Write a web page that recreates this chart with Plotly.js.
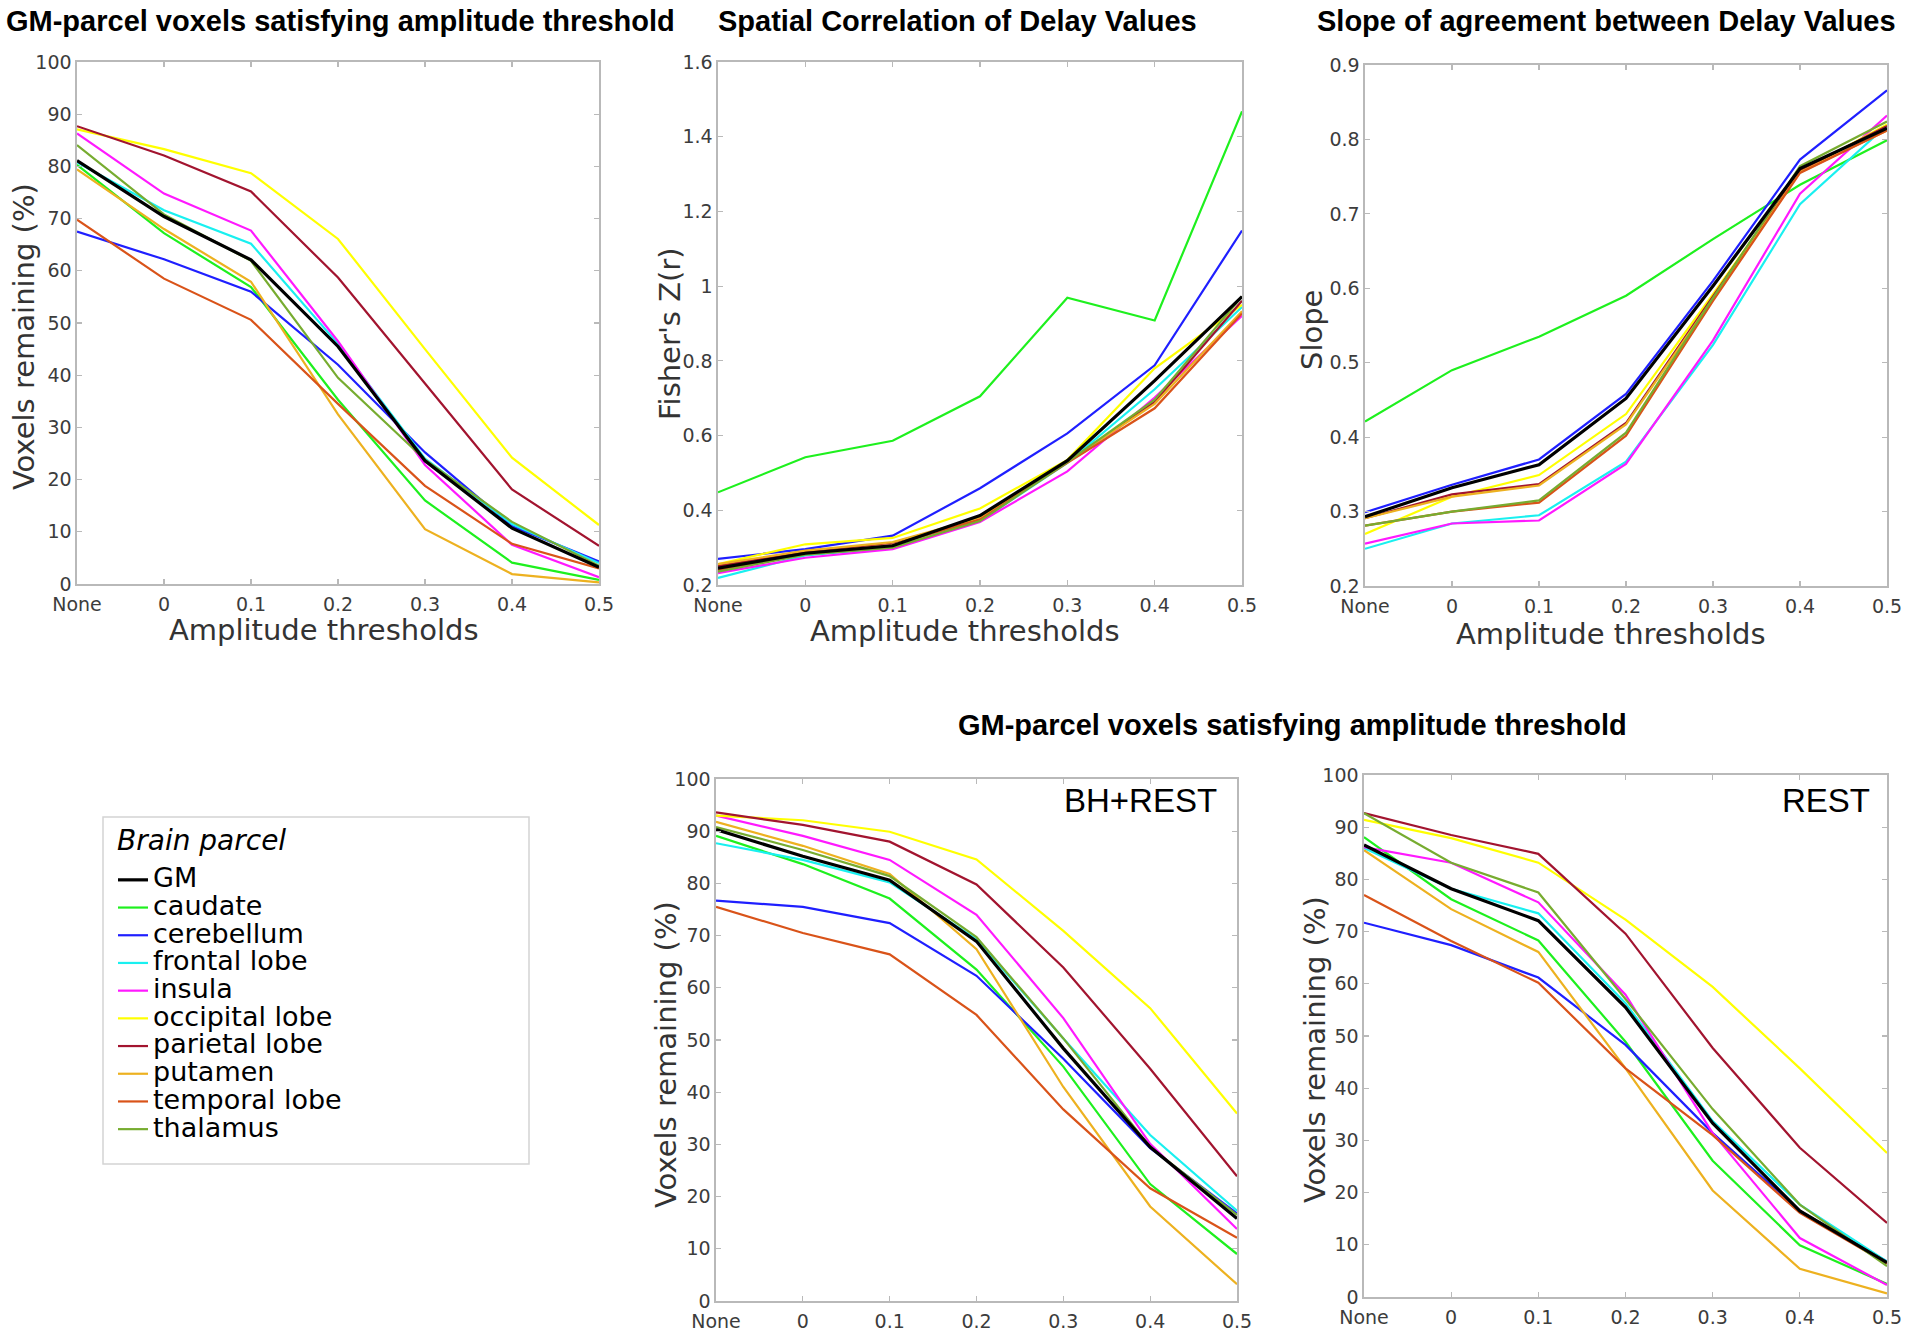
<!DOCTYPE html>
<html>
<head>
<meta charset="utf-8">
<script src="https://cdn.plot.ly/plotly-3.0.1.min.js"></script>
<style>html,body{margin:0;padding:0;background:#fff;}#chart{width:1920px;height:1338px;}</style>
</head>
<body>
<div id="chart"></div>
<script>
// ---------- data ----------
const thresholds = ['None', '0', '0.1', '0.2', '0.3', '0.4', '0.5'];
const parcels = ['GM', 'caudate', 'cerebellum', 'frontal lobe', 'insula', 'occipital lobe',
                 'parietal lobe', 'putamen', 'temporal lobe', 'thalamus'];
const parcelColors = ['#000000', '#1ef01e', '#1f1fff', '#19f0f0', '#ff19ff', '#ffff00',
                      '#a2142f', '#edb120', '#d95319', '#77ac30'];
const parcelWidths = [3.2, 2.2, 2.2, 2.2, 2.2, 2.2, 2.2, 2.2, 2.2, 2.2];

// Panel 1: GM-parcel voxels satisfying amplitude threshold (%)
const voxelsRemaining = [
  [81.1, 70.4, 62.1, 45.5, 23.6, 10.7, 3.2],   // GM
  [80.3, 67.2, 56.9, 35.3, 16.0, 4.1, 0.8],    // caudate
  [67.5, 62.2, 56.0, 42.0, 25.2, 11.1, 4.3],   // cerebellum
  [80.8, 71.6, 65.2, 46.0, 24.0, 11.5, 4.0],   // frontal lobe
  [86.3, 74.8, 67.7, 46.5, 22.8, 7.5, 1.3],    // insula
  [87.1, 83.3, 78.7, 66.1, 45.0, 24.2, 11.3],  // occipital lobe
  [87.7, 82.1, 75.2, 58.7, 38.4, 18.1, 7.3],   // parietal lobe
  [79.4, 68.0, 57.9, 32.5, 10.5, 1.9, 0.3],    // putamen
  [69.8, 58.5, 50.6, 34.5, 18.8, 7.7, 3.0],    // temporal lobe
  [84.1, 70.8, 61.9, 39.5, 23.8, 11.9, 3.5]    // thalamus
];

// Panel 2: Spatial correlation of delay values, Fisher's Z(r)
const fisherZ = [
  [0.245, 0.285, 0.305, 0.386, 0.533, 0.747, 0.972],  // GM
  [0.448, 0.542, 0.586, 0.705, 0.969, 0.908, 1.468],  // caudate
  [0.270, 0.296, 0.332, 0.459, 0.606, 0.788, 1.149],  // cerebellum
  [0.219, 0.279, 0.300, 0.371, 0.527, 0.724, 0.944],  // frontal lobe
  [0.232, 0.273, 0.296, 0.369, 0.504, 0.702, 0.921],  // insula
  [0.256, 0.309, 0.326, 0.405, 0.535, 0.780, 0.950],  // occipital lobe
  [0.251, 0.288, 0.313, 0.378, 0.529, 0.690, 0.961],  // parietal lobe
  [0.256, 0.292, 0.315, 0.380, 0.530, 0.685, 0.933],  // putamen
  [0.240, 0.285, 0.307, 0.375, 0.527, 0.673, 0.927],  // temporal lobe
  [0.236, 0.281, 0.300, 0.371, 0.529, 0.696, 0.972]   // thalamus
];

// Panel 3: Slope of agreement between delay values
const slopeAgreement = [
  [0.293, 0.332, 0.363, 0.452, 0.603, 0.761, 0.815],  // GM
  [0.421, 0.490, 0.535, 0.590, 0.666, 0.739, 0.799],  // caudate
  [0.299, 0.336, 0.370, 0.458, 0.610, 0.773, 0.866],  // cerebellum
  [0.250, 0.284, 0.295, 0.367, 0.524, 0.713, 0.819],  // frontal lobe
  [0.257, 0.284, 0.288, 0.364, 0.530, 0.727, 0.832],  // insula
  [0.270, 0.320, 0.349, 0.431, 0.592, 0.756, 0.820],  // occipital lobe
  [0.291, 0.323, 0.337, 0.419, 0.589, 0.758, 0.818],  // parietal lobe
  [0.291, 0.320, 0.335, 0.417, 0.586, 0.756, 0.812],  // putamen
  [0.281, 0.300, 0.312, 0.402, 0.583, 0.755, 0.812],  // temporal lobe
  [0.281, 0.300, 0.315, 0.406, 0.587, 0.764, 0.824]   // thalamus
];

// Panel 4: voxels remaining, BH+REST (%)
const voxelsBhRest = [
  [90.3, 85.2, 80.6, 68.9, 48.4, 29.5, 15.8],  // GM
  [89.1, 83.7, 77.1, 63.5, 44.9, 22.4, 9.0],   // caudate
  [76.7, 75.5, 72.4, 62.3, 46.4, 29.3, 16.8],  // cerebellum
  [87.7, 84.5, 80.2, 69.3, 50.3, 31.8, 17.3],  // frontal lobe
  [93.0, 89.1, 84.5, 74.0, 54.2, 30.1, 13.8],  // insula
  [93.0, 92.1, 89.9, 84.6, 70.9, 56.1, 35.9],  // occipital lobe
  [93.6, 91.2, 88.0, 79.8, 63.9, 44.5, 23.9],  // parietal lobe
  [91.8, 87.2, 81.8, 67.4, 41.0, 18.1, 3.2],   // putamen
  [75.5, 70.5, 66.4, 54.8, 36.7, 21.6, 12.1],  // temporal lobe
  [90.8, 86.4, 81.4, 69.7, 50.3, 29.5, 16.5]   // thalamus
];

// Panel 5: voxels remaining, REST (%)
const voxelsRest = [
  [86.6, 78.2, 72.1, 55.5, 33.3, 16.5, 6.6],   // GM
  [88.1, 76.2, 68.3, 48.9, 26.1, 9.9, 2.5],    // caudate
  [71.7, 67.4, 61.2, 48.3, 31.4, 16.5, 6.8],   // cerebellum
  [86.0, 78.2, 73.5, 56.3, 33.7, 17.7, 6.8],   // frontal lobe
  [86.2, 83.2, 75.6, 57.9, 31.4, 11.3, 2.3],   // insula
  [91.4, 87.9, 83.2, 72.3, 59.4, 43.8, 27.6],  // occipital lobe
  [92.7, 88.5, 84.9, 69.6, 47.7, 28.6, 14.2],  // parietal lobe
  [85.6, 74.3, 66.1, 43.8, 20.4, 5.4, 0.7],    // putamen
  [77.0, 68.2, 60.2, 43.8, 31.0, 16.1, 6.4],   // temporal lobe
  [92.7, 83.2, 77.5, 57.1, 36.0, 17.7, 5.9]    // thalamus
];

const panelTitles = ['GM-parcel voxels satisfying amplitude threshold',
                     'Spatial Correlation of Delay Values',
                     'Slope of agreement between Delay Values',
                     'GM-parcel voxels satisfying amplitude threshold'];
const xTitle = 'Amplitude thresholds';
const yTitles = ['Voxels remaining (%)', "Fisher's Z(r)", 'Slope', 'Voxels remaining (%)', 'Voxels remaining (%)'];
const panelTags = ['BH+REST', 'REST'];
const legendTitle = 'Brain parcel';

// ---------- build ----------
const W = 1920, H = 1338;
const px = v => v / W;
const py = v => 1 - v / H;

const panelData = [voxelsRemaining, fisherZ, slopeAgreement, voxelsBhRest, voxelsRest];
const traces = [];
// draw order: coloured parcels first, GM (black) on top
const order = [1, 2, 3, 4, 5, 6, 7, 8, 9, 0];
panelData.forEach((series, p) => {
  const ax = p === 0 ? '' : String(p + 1);
  order.forEach(i => {
    traces.push({
      type: 'scatter', mode: 'lines',
      x: thresholds, y: series[i],
      name: '<span style="font-size:27px">' + parcels[i] + '</span>',
      legendrank: i + 1,
      xaxis: 'x' + ax, yaxis: 'y' + ax,
      line: {color: parcelColors[i], width: parcelWidths[i]},
      showlegend: p === 0,
      hoverinfo: 'x+y'
    });
  });
});

const axisLine = '#b9b9b9';
const tickFont = {family: 'DejaVu Sans, Verdana, sans-serif', size: 19, color: '#3c3c3c'};
const axisTitleFont = {family: 'DejaVu Sans, Verdana, sans-serif', size: 29, color: '#333333'};

function xAxis(domain, anchor) {
  return {
    domain: domain, anchor: anchor, type: 'category', range: [0, 6],
    showline: true, mirror: 'ticks', linecolor: axisLine, linewidth: 1.6,
    ticks: 'inside', ticklen: 5, tickcolor: axisLine, tickwidth: 1.2,
    tickfont: tickFont, ticklabelstandoff: 3,
    showgrid: false, zeroline: false, fixedrange: true
  };
}
function yAxis(domain, anchor, range, dtick) {
  return {
    domain: domain, anchor: anchor, range: range, dtick: dtick, tick0: 0,
    showline: true, mirror: 'ticks', linecolor: axisLine, linewidth: 1.6,
    ticks: 'inside', ticklen: 5, tickcolor: axisLine, tickwidth: 1.2,
    tickfont: tickFont, ticklabelstandoff: 0,
    showgrid: false, zeroline: false, fixedrange: true
  };
}

// axis titles placed where the reference puts them (slightly off-centre)
const xTitlePos = [[324, 630], [965, 631], [1611, 634]];
const yTitlePos = [[24, 337], [670, 334], [1312, 330], [666, 1055], [1315, 1050]];

const annotations = [];
[[340, 21], [957, 21], [1606, 21], [1292, 725]].forEach((p, i) => annotations.push({
  text: '<b>' + panelTitles[i] + '</b>', x: px(p[0]), y: py(p[1]),
  xref: 'paper', yref: 'paper', xanchor: 'center', yanchor: 'middle', showarrow: false,
  font: {family: 'Liberation Sans, Arial, sans-serif', size: 29, color: '#000'}
}));
xTitlePos.forEach(p => annotations.push({
  text: xTitle, x: px(p[0]), y: py(p[1]),
  xref: 'paper', yref: 'paper', xanchor: 'center', yanchor: 'middle', showarrow: false,
  font: axisTitleFont
}));
yTitlePos.forEach((p, i) => annotations.push({
  text: yTitles[i], x: px(p[0]), y: py(p[1]), textangle: -90,
  xref: 'paper', yref: 'paper', xanchor: 'center', yanchor: 'middle', showarrow: false,
  font: axisTitleFont
}));
[['x4', 'y4', 0.965, 0.958], ['x5', 'y5', 0.9715, 0.951]].forEach((p, i) => annotations.push({
  text: panelTags[i], xref: p[0] + ' domain', yref: p[1] + ' domain', x: p[2], y: p[3],
  xanchor: 'right', yanchor: 'middle', showarrow: false,
  font: {family: 'Liberation Sans, Arial, sans-serif', size: 33, color: '#000'}
}));
annotations.push({
  text: '<i>' + legendTitle + '</i>', xref: 'paper', yref: 'paper',
  x: px(115), y: py(840), xanchor: 'left', yanchor: 'middle', showarrow: false,
  font: {family: 'DejaVu Sans, sans-serif', size: 28, color: '#000'}
});

const layout = {
  width: W, height: H,
  margin: {l: 0, r: 0, t: 0, b: 0},
  paper_bgcolor: '#ffffff', plot_bgcolor: '#ffffff',
  font: {family: 'DejaVu Sans, sans-serif', color: '#000'},
  xaxis:  xAxis([px(77), px(599)], 'y'),
  yaxis:  yAxis([py(584), py(62)], 'x', [0, 100], 10),
  xaxis2: xAxis([px(718), px(1242)], 'y2'),
  yaxis2: yAxis([py(585), py(62)], 'x2', [0.2, 1.6], 0.2),
  xaxis3: xAxis([px(1365), px(1887)], 'y3'),
  yaxis3: yAxis([py(586), py(65)], 'x3', [0.2, 0.9], 0.1),
  xaxis4: xAxis([px(716), px(1237)], 'y4'),
  yaxis4: yAxis([py(1301), py(779)], 'x4', [0, 100], 10),
  xaxis5: xAxis([px(1364), px(1887)], 'y5'),
  yaxis5: yAxis([py(1297), py(775)], 'x5', [0, 100], 10),
  showlegend: true,
  legend: {
    x: px(113), y: py(861), xanchor: 'left', yanchor: 'top',
    bgcolor: 'rgba(0,0,0,0)', borderwidth: 0,
    font: {family: 'DejaVu Sans, sans-serif', size: 19, color: '#000'},
    traceorder: 'normal', itemwidth: 30, tracegroupgap: 0
  },
  shapes: [{
    type: 'rect', xref: 'paper', yref: 'paper',
    x0: px(103), x1: px(529), y0: py(1164), y1: py(817),
    line: {color: '#d4d4d4', width: 1.5}, fillcolor: 'rgba(0,0,0,0)'
  }],
  annotations: annotations
};

Plotly.newPlot('chart', traces, layout, {displayModeBar: false, staticPlot: true});
</script>
</body>
</html>
